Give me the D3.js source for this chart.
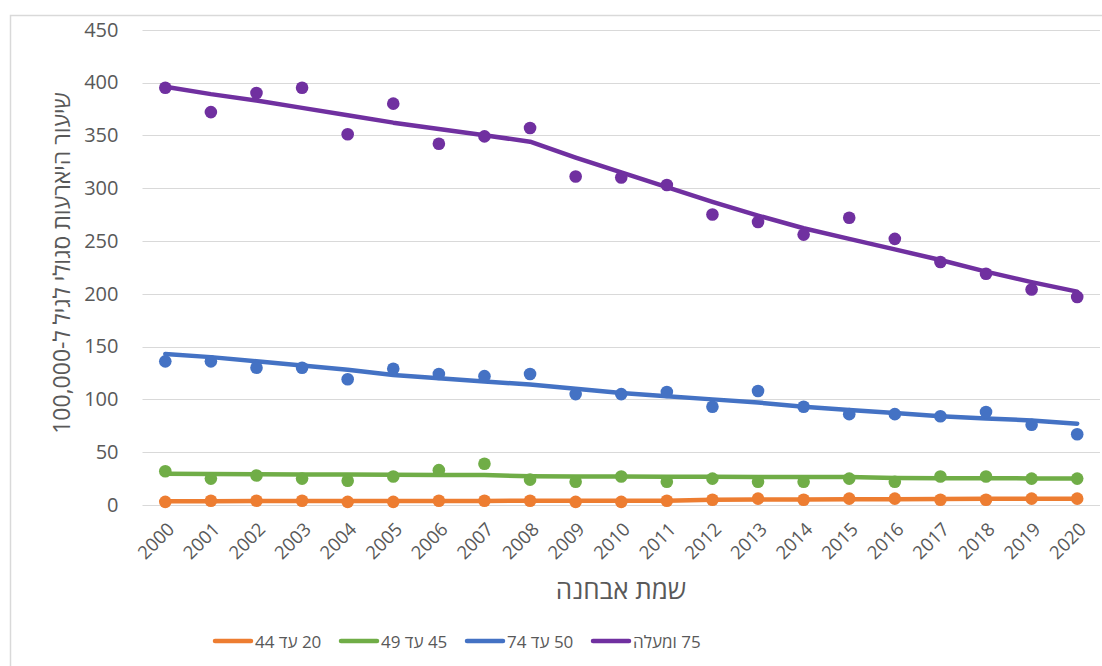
<!DOCTYPE html>
<html>
<head>
<meta charset="utf-8">
<script src="https://cdn.jsdelivr.net/npm/d3@7"></script>
<style>
  html, body { margin: 0; padding: 0; background: #fff; }
  svg { display: block; font-family: "Open Sans", "DejaVu Sans", sans-serif; }
</style>
</head>
<body>
<svg id="chart" width="1102" height="666"></svg>
<script>
// ---------- data ----------
const years = ["2000","2001","2002","2003","2004","2005","2006","2007","2008","2009","2010",
               "2011","2012","2013","2014","2015","2016","2017","2018","2019","2020"];
const yTicks = [0, 50, 100, 150, 200, 250, 300, 350, 400, 450];
const seriesNames = ["20 עד 44", "45 עד 49", "50 עד 74", "75 ומעלה"];
const seriesColors = ["#ED7D31", "#70AD47", "#4472C4", "#7030A0"];

// observed rates (markers)
const obs2044 = [3, 4, 4, 4, 3, 3, 4, 4, 4, 3, 3, 4, 5, 6, 5, 6, 6, 5, 5, 6, 6];
const obs4549 = [32, 25, 28, 25, 23, 27, 33, 39, 24, 22, 27, 22, 25, 22, 22, 25, 22, 27, 27, 25, 25];
const obs5074 = [136, 136, 130, 130, 119, 129, 124, 122, 124, 105, 105, 107, 93, 108, 93, 86, 86, 84, 88, 76, 67];
const obs75p  = [395, 372, 390, 395, 351, 380, 342, 349, 357, 311, 310, 303, 275, 268, 256, 272, 252, 230, 219, 204, 197];

// fitted trend (lines)
const fit2044 = [3.6, 3.6, 3.7, 3.7, 3.8, 3.8, 3.9, 3.9, 4.0, 4.0, 4.1, 4.1, 5.0, 5.1, 5.3, 5.4, 5.5, 5.6, 5.8, 5.9, 6.0];
const fit4549 = [29.5, 29.3, 29.1, 28.9, 28.8, 28.6, 28.4, 28.3, 27.2, 27.0, 26.9, 26.8, 26.7, 26.6, 26.5, 26.4, 25.5, 25.4, 25.3, 25.2, 25.1];
const fit5074 = [143, 140, 136, 132, 128, 123, 120, 117, 114, 110, 106, 103, 100, 97, 93, 90, 87, 84, 82, 80, 77];
const fit75p  = [396, 389, 383, 376, 369, 362, 356, 350, 344, 329, 315, 301, 287, 274, 262, 252, 242, 232, 221, 211, 202];

const observed = [obs2044, obs4549, obs5074, obs75p];
const fitted = [fit2044, fit4549, fit5074, fit75p];

const yTitle = "שיעור היארעות סגולי לגיל ל-100,000";
const xTitle = "שמת אבחנה";

// ---------- layout ----------
const svg = d3.select("#chart");
const textColor = "#595959";
const gridColor = "#d9d9d9";
const plotLeft = 142.5, plotRight = 1100, plotTop = 29.7, plotBottom = 505;

// chart frame
svg.append("rect")
  .attr("x", 10.5).attr("y", 15.5)
  .attr("width", 1102).attr("height", 700)
  .attr("fill", "#fff").attr("stroke", gridColor).attr("stroke-width", 1.5);

const x = d3.scalePoint().domain(years).range([plotLeft, plotRight]).padding(0.5);
const y = d3.scaleLinear().domain([0, 450]).range([plotBottom, plotTop]);

// gridlines
svg.append("g").selectAll("line").data(yTicks).join("line")
  .attr("x1", plotLeft).attr("x2", plotRight)
  .attr("y1", d => Math.round(y(d)) + 0.5).attr("y2", d => Math.round(y(d)) + 0.5)
  .attr("stroke", gridColor).attr("stroke-width", 1.2);

// y axis labels
const yAxis = svg.append("g").attr("transform", `translate(${plotLeft},0)`)
  .call(d3.axisLeft(y).tickValues(yTicks).tickSize(0).tickPadding(24));
yAxis.select(".domain").remove();
yAxis.selectAll("text").attr("fill", textColor).attr("font-size", 20)
  .attr("font-family", "\"Open Sans\", sans-serif");

// x axis labels
const xAxis = svg.append("g").attr("transform", `translate(0,${plotBottom})`)
  .call(d3.axisBottom(x).tickSize(0).tickPadding(0));
xAxis.select(".domain").remove();
xAxis.selectAll("text")
  .attr("fill", textColor).attr("font-size", 18.5)
  .attr("font-family", "\"Open Sans\", sans-serif")
  .attr("text-anchor", "end")
  .attr("dy", "0.35em")
  .attr("transform", "translate(5,21) rotate(-45)");

// axis titles
svg.append("text")
  .attr("transform", "translate(70,263) rotate(-90)")
  .attr("text-anchor", "middle")
  .attr("direction", "rtl")
  .attr("fill", textColor).attr("font-size", 23)
  .text(yTitle);

svg.append("text")
  .attr("x", 621).attr("y", 599)
  .attr("text-anchor", "middle")
  .attr("direction", "rtl")
  .attr("fill", textColor).attr("font-size", 26)
  .text(xTitle);

// series
const line = d3.line().x((d, i) => x(years[i])).y(d => y(d));
observed.forEach((vals, s) => {
  svg.append("path")
    .datum(fitted[s])
    .attr("d", line)
    .attr("fill", "none")
    .attr("stroke", seriesColors[s])
    .attr("stroke-width", 4.5)
    .attr("stroke-linejoin", "round")
    .attr("stroke-linecap", "round");
  svg.append("g").selectAll("circle").data(vals).join("circle")
    .attr("cx", (d, i) => x(years[i]))
    .attr("cy", d => y(d))
    .attr("r", 6.3)
    .attr("fill", seriesColors[s]);
});

// legend
const legendStarts = [213, 339, 465, 591];
const legendY = 641;
seriesNames.forEach((name, s) => {
  const lx = legendStarts[s];
  svg.append("line")
    .attr("x1", lx + 2).attr("x2", lx + 38)
    .attr("y1", legendY).attr("y2", legendY)
    .attr("stroke", seriesColors[s]).attr("stroke-width", 4.5)
    .attr("stroke-linecap", "round");
  const t = svg.append("text")
    .attr("y", legendY + 6.5)
    .attr("direction", "rtl")
    .attr("text-anchor", "middle")
    .attr("fill", textColor).attr("font-size", 17)
    .text(name);
  const w = t.node().getComputedTextLength();
  t.attr("x", lx + 42 + w / 2);
});
</script>
</body>
</html>
